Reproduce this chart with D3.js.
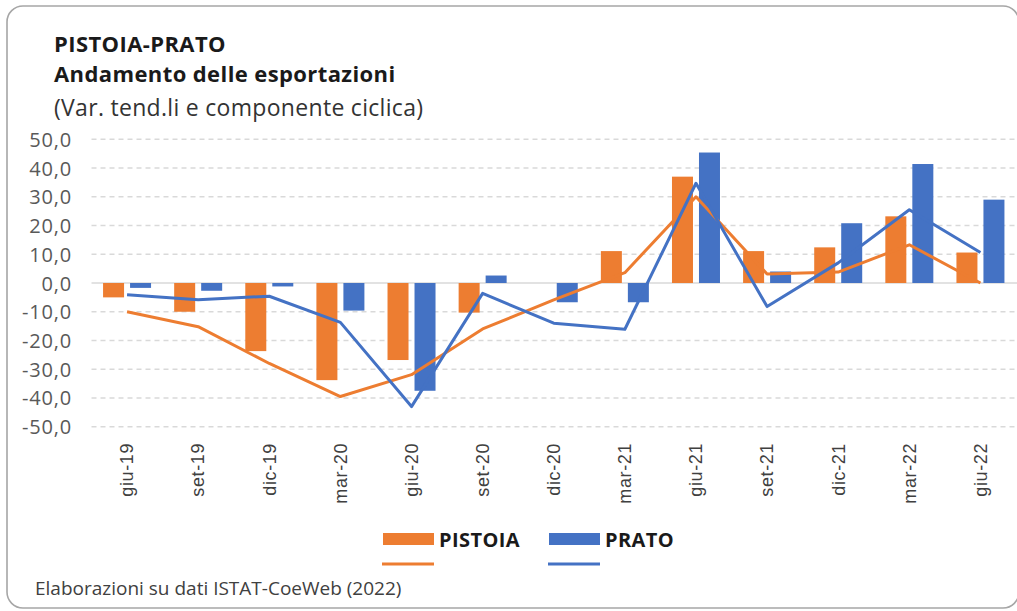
<!DOCTYPE html>
<html>
<head>
<meta charset="utf-8">
<script src="https://cdnjs.cloudflare.com/ajax/libs/d3/7.8.5/d3.min.js"></script>
<style>
  html, body { margin: 0; padding: 0; background: #fff; }
  svg { display: block; }
  .tick-y { font-family: "Open Sans", sans-serif; font-size: 20px; letter-spacing: 0.8px; fill: #595959; }
  .tick-x { font-family: "Liberation Sans", Arial, sans-serif; font-size: 18px; letter-spacing: 0.6px; fill: #404040; }
</style>
</head>
<body>
<div class="chart"></div>
<script>
var CATEGORIES = ['giu-19', 'set-19', 'dic-19', 'mar-20', 'giu-20', 'set-20', 'dic-20',
                  'mar-21', 'giu-21', 'set-21', 'dic-21', 'mar-22', 'giu-22'];

// variazioni tendenziali (barre)
var PISTOIA_VAR = [-5.0, -10.0, -23.7, -33.8, -26.8, -10.3, 0.0, 11.1, 37.0, 11.1, 12.4, 23.2, 10.6];
var PRATO_VAR   = [-1.7, -2.7, -1.2, -9.6, -37.5, 2.6, -6.7, -6.7, 45.4, 4.0, 20.8, 41.4, 29.0];

// componente ciclica (linee)
var PISTOIA_CICLO = [-10.0, -15.2, -28.0, -39.5, -31.9, -16.0, -5.9, 3.6, 30.0, 3.1, 3.8, 13.3, 0.0];
var PRATO_CICLO   = [-4.1, -5.8, -4.6, -13.7, -43.0, -3.6, -14.0, -16.1, 34.7, -8.2, 7.0, 25.5, 10.6];

var Y_TICKS = [50, 40, 30, 20, 10, 0, -10, -20, -30, -40, -50];

var ORANGE = '#ED7D31',
    BLUE = '#4472C4';

var W = 1017, H = 611;

var svg = d3.select('.chart').append('svg')
    .attr('width', W)
    .attr('height', H);

// cornice arrotondata
svg.append('rect')
    .attr('x', 7).attr('y', 6)
    .attr('width', 1012).attr('height', 602)
    .attr('rx', 16).attr('ry', 16)
    .attr('fill', '#fff')
    .attr('stroke', '#a6a6a6')
    .attr('stroke-width', 1.6);

// titoli
var titles = [
  {t: 'PISTOIA-PRATO', y: 52, w: 'bold', s: 22, ls: 0.4},
  {t: 'Andamento delle esportazioni', y: 82, w: 'bold', s: 22, ls: 0.4},
  {t: '(Var. tend.li e componente ciclica)', y: 116, w: 'normal', s: 23, ls: 0.3}
];
svg.selectAll('.title')
    .data(titles)
    .enter().append('text')
    .attr('class', 'title')
    .attr('x', 54)
    .attr('y', function (d) { return d.y; })
    .style('font-family', '"Open Sans", sans-serif')
    .style('font-size', function (d) { return d.s + 'px'; })
    .style('letter-spacing', function (d) { return d.ls + 'px'; })
    .style('font-weight', function (d) { return d.w; })
    .style('fill', function (d) { return d.w === 'bold' ? '#1a1a1a' : '#333'; })
    .text(function (d) { return d.t; });

var x = d3.scaleBand().domain(CATEGORIES).range([91.5, 1016]).padding(0);
var y = d3.scaleLinear().domain([-50, 50]).range([426.7, 139.3]);

var fmt = function (v) { return d3.format('.1f')(v).replace('.', ',').replace('\u2212', '-'); };

// griglia
svg.append('g')
    .selectAll('line')
    .data(Y_TICKS.filter(function (d) { return d !== 0; }))
    .enter().append('line')
    .attr('x1', 91.5).attr('x2', W)
    .attr('y1', function (d) { return y(d); })
    .attr('y2', function (d) { return y(d); })
    .attr('stroke', '#d9d9d9')
    .attr('stroke-width', 1.5)
    .attr('stroke-dasharray', '5,4');

svg.append('line')
    .attr('x1', 91.5).attr('x2', W)
    .attr('y1', y(0)).attr('y2', y(0))
    .attr('stroke', '#d9d9d9')
    .attr('stroke-width', 1.5);

// asse y
var yAxis = d3.axisLeft(y).tickValues(Y_TICKS).tickSize(0).tickPadding(0).tickFormat(fmt);
var gy = svg.append('g')
    .attr('transform', 'translate(72,0)')
    .call(yAxis);
gy.select('.domain').remove();
gy.selectAll('text').attr('class', 'tick-y').attr('dy', '0.35em');

// barre
var half = x.bandwidth() / 2;
svg.append('g').selectAll('rect')
    .data(PISTOIA_VAR)
    .enter().append('rect')
    .attr('x', function (d, i) { return x(CATEGORIES[i]) + half - 24; })
    .attr('width', 21)
    .attr('y', function (d) { return y(Math.max(0, d)); })
    .attr('height', function (d) { return Math.abs(y(d) - y(0)); })
    .attr('fill', ORANGE);

svg.append('g').selectAll('rect')
    .data(PRATO_VAR)
    .enter().append('rect')
    .attr('x', function (d, i) { return x(CATEGORIES[i]) + half + 3; })
    .attr('width', 21)
    .attr('y', function (d) { return y(Math.max(0, d)); })
    .attr('height', function (d) { return Math.abs(y(d) - y(0)); })
    .attr('fill', BLUE);

// linee
var line = d3.line()
    .x(function (d, i) { return x(CATEGORIES[i]) + half; })
    .y(function (d) { return y(d); });

svg.append('path')
    .datum(PISTOIA_CICLO)
    .attr('d', line)
    .attr('fill', 'none')
    .attr('stroke', ORANGE)
    .attr('stroke-width', 3)
    .attr('stroke-linejoin', 'round');

svg.append('path')
    .datum(PRATO_CICLO)
    .attr('d', line)
    .attr('fill', 'none')
    .attr('stroke', BLUE)
    .attr('stroke-width', 3)
    .attr('stroke-linejoin', 'round');

// asse x (etichette ruotate)
var xAxis = d3.axisBottom(x).tickSize(0).tickPadding(0);
var gx = svg.append('g')
    .attr('transform', 'translate(0,443)')
    .call(xAxis);
gx.select('.domain').remove();
gx.selectAll('text')
    .attr('class', 'tick-x')
    .attr('transform', 'rotate(-90)')
    .attr('x', 0).attr('y', 0)
    .attr('dx', 0).attr('dy', '0.35em')
    .style('text-anchor', 'end');

// legenda
var legend = [
  {name: 'PISTOIA', color: ORANGE, x: 383},
  {name: 'PRATO', color: BLUE, x: 549}
];
var lg = svg.append('g').selectAll('g')
    .data(legend)
    .enter().append('g');
lg.append('rect')
    .attr('x', function (d) { return d.x; })
    .attr('y', 533)
    .attr('width', 51).attr('height', 12)
    .attr('fill', function (d) { return d.color; });
lg.append('text')
    .attr('x', function (d) { return d.x + 56; })
    .attr('y', 547)
    .style('font-family', '"Open Sans", sans-serif')
    .style('font-size', '20px')
    .style('letter-spacing', '0.4px')
    .style('font-weight', 'bold')
    .style('fill', '#1a1a1a')
    .text(function (d) { return d.name; });
lg.append('line')
    .attr('x1', function (d) { return d.x - 1; })
    .attr('x2', function (d) { return d.x + 51; })
    .attr('y1', 564).attr('y2', 564)
    .attr('stroke', function (d) { return d.color; })
    .attr('stroke-width', 3);

// fonte
svg.append('text')
    .attr('x', 35)
    .attr('y', 595)
    .style('font-family', '"Open Sans", sans-serif')
    .style('font-size', '19px')
    .style('fill', '#404040')
    .text('Elaborazioni su dati ISTAT-CoeWeb (2022)');
</script>
</body>
</html>
